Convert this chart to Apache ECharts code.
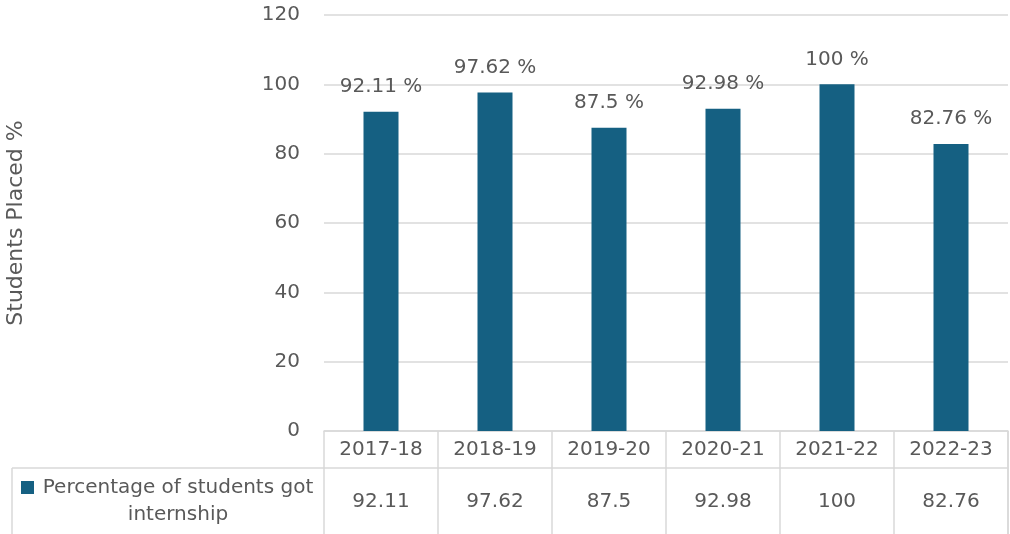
<!DOCTYPE html>
<html>
<head>
    <meta charset="utf-8">
    <title>Students Placed %</title>
    <script type="text/javascript" src="https://cdn.jsdelivr.net/npm/echarts@6/dist/echarts.min.js"></script>
    <style>
        html, body { margin: 0; padding: 0; background: #fff; }
        #chart { width: 1010px; height: 534px; }
    </style>
</head>
<body>
<div id="chart"></div>
<script type="text/javascript">
    // data
    var years = ['2017-18', '2018-19', '2019-20', '2020-21', '2021-22', '2022-23'];
    var placed = [92.11, 97.62, 87.5, 92.98, 100, 82.76];
    var seriesName = 'Percentage of students got internship';
    var yTicks = { min: 0, max: 120, interval: 20 };

    var textColor = '#595959';
    var lineColor = '#d9d9d9';
    var barColor = '#156082';
    var font = '"DejaVu Sans", sans-serif';

    var myChart = echarts.init(document.getElementById('chart'));

    myChart.setOption({
        animation: false,
        textStyle: { fontFamily: font, color: textColor },
        grid: { left: 324, right: 2, top: 15, bottom: 103, outerBoundsMode: 'none', containLabel: false },
        xAxis: [{
            type: 'category',
            data: years,
            position: 'bottom',
            axisLine: { lineStyle: { color: lineColor, width: 1.5 } },
            axisTick: { show: true, length: 110, lineStyle: { color: lineColor, width: 1.5 } },
            axisLabel: { color: textColor, fontSize: 20, margin: 9, fontFamily: font }
        }, {
            // data table row with the values
            type: 'category',
            data: placed.map(function (v) { return String(v); }),
            position: 'bottom',
            offset: 37,
            axisLine: { lineStyle: { color: lineColor, width: 1.5 } },
            axisTick: { show: false },
            axisLabel: { color: textColor, fontSize: 20, margin: 24, fontFamily: font }
        }],
        yAxis: {
            type: 'value',
            min: yTicks.min,
            max: yTicks.max,
            interval: yTicks.interval,
            name: 'Students Placed %',
            nameLocation: 'middle',
            nameGap: 297,
            nameRotate: 90,
            nameTextStyle: { color: textColor, fontSize: 22, fontFamily: font },
            axisLine: { show: false },
            axisTick: { show: false },
            axisLabel: { color: textColor, fontSize: 20, margin: 24, fontFamily: font },
            splitLine: { lineStyle: { color: lineColor, width: 1.5 } }
        },
        series: [{
            name: seriesName,
            type: 'bar',
            data: placed,
            barWidth: 35,
            itemStyle: { color: barColor },
            label: {
                show: true,
                position: 'top',
                distance: 15,
                color: textColor,
                fontSize: 20,
                fontFamily: font,
                formatter: '{c} %'
            }
        }],
        graphic: [
            { type: 'line', shape: { x1: 12, y1: 468, x2: 324, y2: 468 }, style: { stroke: lineColor, lineWidth: 1.5 } },
            { type: 'line', shape: { x1: 12, y1: 468, x2: 12, y2: 534 }, style: { stroke: lineColor, lineWidth: 1.5 } },
            { type: 'line', shape: { x1: 1008, y1: 431, x2: 1008, y2: 534 }, style: { stroke: lineColor, lineWidth: 1.5 } },
            { type: 'rect', shape: { x: 21, y: 481, width: 13, height: 13 }, style: { fill: barColor } },
            {
                type: 'text', x: 178, y: 501,
                style: {
                    text: 'Percentage of students got\ninternship',
                    fill: textColor, font: '20px ' + font,
                    textAlign: 'center', textVerticalAlign: 'middle', lineHeight: 27
                }
            }
        ]
    });
</script>
</body>
</html>
